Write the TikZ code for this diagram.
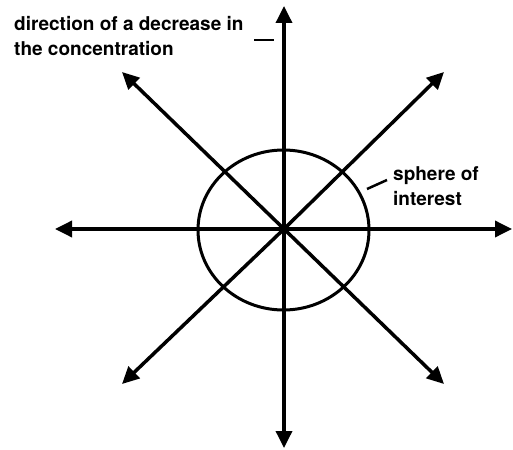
\documentclass[tikz,border=0pt]{standalone}
\usepackage{fontspec}
\setmainfont{TeX Gyre Heros}
\usetikzlibrary{arrows.meta,positioning}

\begin{document}
\begin{tikzpicture}[x=1pt, y=-1pt, >={Triangle[length=17pt,width=16pt]},
  font=\bfseries\fontsize{19}{25}\selectfont,
  ray/.style={->, line width=3.5pt},
  lbl/.style={align=left, inner sep=0pt, anchor=north west},
  lead/.style={line width=2.5pt}]
\useasboundingbox (0,0) rectangle (513,449);

% Zentrum und Pfeilspitzen
\coordinate (o)  at (284,229);
\coordinate (n)  at (284,6);
\coordinate (s)  at (284,448);
\coordinate (w)  at (55,229);
\coordinate (e)  at (512,229);
\coordinate (ne) at (444,72);
\coordinate (nw) at (122,72);
\coordinate (se) at (444,384);
\coordinate (sw) at (122,384);

% Kugel
\draw[line width=3pt] (283.5,230) ellipse [x radius=85.5, y radius=80];

% Strahlen
\foreach \d in {n,s,w,e,ne,nw,se,sw}
  \draw[ray] (o) -- (\d);

% Beschriftungen
\node[lbl] (dir) at (14,16) {direction of a decrease in\\the concentration};
\node[lbl] (sph) at (393,166) {sphere of\\interest};

\coordinate (dira) at (254,40);
\coordinate (dirb) at (274,40);
\draw[lead] (dira) -- (dirb);
\coordinate (spha) at (367,189);
\coordinate (sphb) at (387,180);
\draw[lead] (spha) -- (sphb);
\end{tikzpicture}
\end{document}
